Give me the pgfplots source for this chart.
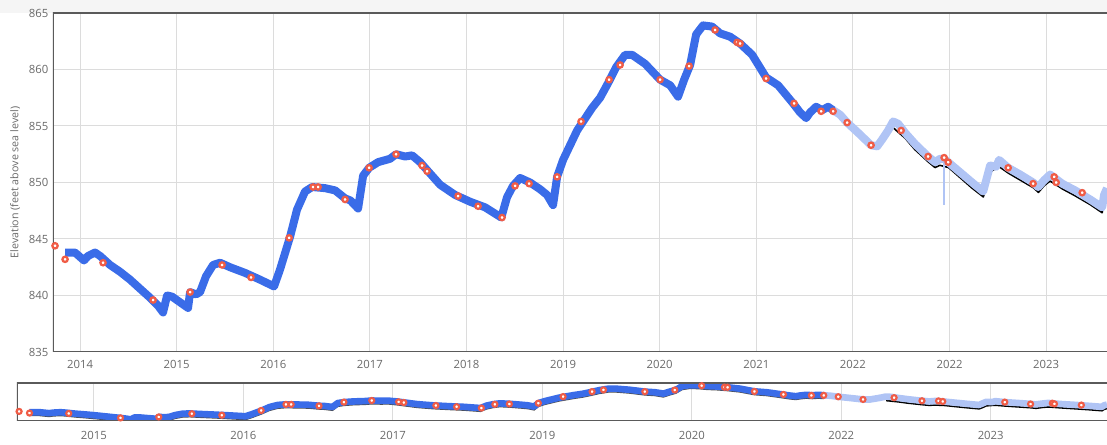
\documentclass[border=0pt]{standalone}
\usepackage{fontspec}
\setmainfont{Open Sans}
\usepackage{pgfplots}
\usepackage{pgfplotstable}
\pgfplotsset{compat=1.18}

\definecolor{lineblue}{RGB}{58,108,232}
\definecolor{paleblue}{RGB}{176,196,245}
\definecolor{ptred}{RGB}{240,92,70}
\definecolor{frame}{RGB}{90,90,90}
\definecolor{gridc}{RGB}{220,220,220}
\definecolor{txt}{RGB}{105,105,105}

% x = position in units of the main axis ticks (0 = first "2014" tick)
\pgfplotstableread{
x y
-0.155 843.8
-0.052 843.8
0.041 843.1
0.083 843.5
0.155 843.8
0.207 843.5
0.311 842.7
0.414 842.1
0.518 841.4
0.621 840.6
0.725 839.8
0.807 839.1
0.859 838.5
0.901 840.0
0.952 839.9
1.035 839.4
1.118 838.9
1.139 840.3
1.201 840.1
1.242 840.3
1.304 841.7
1.377 842.7
1.449 842.9
1.553 842.5
1.708 842.0
1.863 841.4
2.008 840.8
2.070 842.3
2.174 845.2
2.246 847.6
2.329 849.2
2.402 849.6
2.536 849.5
2.640 849.3
2.743 848.6
2.800 848.4
2.878 847.7
2.930 850.6
2.992 851.3
3.085 851.8
3.209 852.1
3.271 852.5
3.364 852.3
3.437 852.4
3.520 851.8
3.602 851.0
3.727 849.8
3.882 848.9
4.037 848.3
4.193 847.8
4.360 846.9
4.420 848.7
4.482 849.7
4.555 850.4
4.658 850.0
4.762 849.4
4.834 848.9
4.896 848.0
4.938 850.5
5.000 852.0
5.145 854.6
5.300 856.6
5.383 857.5
5.466 858.8
5.549 860.2
5.642 861.3
5.714 861.3
5.849 860.5
6.004 859.1
6.108 858.6
6.190 857.6
6.253 859.1
6.315 860.4
6.377 863.1
6.449 863.9
6.542 863.8
6.625 863.2
6.729 862.9
6.832 862.3
6.957 861.3
7.101 859.3
7.226 858.6
7.381 857.0
7.453 856.2
7.516 855.7
7.557 856.2
7.619 856.7
7.681 856.4
7.743 856.7
7.795 856.4
}\bluetab

\pgfplotstableread{
x y
7.795 856.4
7.867 856.0
7.940 855.3
8.054 854.4
8.188 853.3
8.251 853.2
8.302 853.8
8.364 854.6
8.416 855.4
8.468 855.2
8.540 854.4
8.644 853.4
8.778 852.3
8.851 851.8
8.903 852.1
8.944 852.1
8.986 851.8
9.110 850.9
9.234 850.0
9.348 849.2
9.389 850.5
9.420 851.5
9.482 851.4
9.513 852.0
9.607 851.3
9.731 850.7
9.865 850.0
9.917 849.6
9.979 850.2
10.041 850.7
10.104 850.3
10.166 849.9
10.300 849.3
10.455 848.5
10.580 847.8
10.600 848.9
10.630 849.5
}\paletab

\pgfplotstableread{
x y
8.944 852.0
8.944 848.0
}\spiketab

\pgfplotstableread{
x y
8.42 855.0
8.54 854.1
8.64 853.1
8.78 852.0
8.85 851.5
8.90 851.7
8.99 851.5
9.11 850.6
9.23 849.7
9.35 848.9
9.39 850.0
9.42 851.1
9.51 851.6
9.61 851.0
9.73 850.4
9.87 849.7
9.92 849.3
9.98 849.9
10.04 850.3
10.10 850.0
10.17 849.6
10.30 849.0
10.46 848.2
10.58 847.5
10.60 848.5
10.63 849.1
}\blacktab

\pgfplotstableread{
x y
-0.259 844.4
-0.155 843.2
0.238 842.9
0.756 839.6
1.139 840.3
1.470 842.7
1.770 841.6
2.164 845.1
2.412 849.6
2.464 849.6
2.743 848.5
2.992 851.3
3.271 852.5
3.540 851.5
3.592 851.0
3.913 848.8
4.120 847.9
4.368 846.9
4.503 849.7
4.648 849.9
4.938 850.5
5.186 855.4
5.476 859.1
5.590 860.4
6.004 859.1
6.304 860.3
6.573 863.5
6.801 862.4
6.832 862.3
7.101 859.2
7.391 857.0
7.671 856.3
7.795 856.3
7.940 855.3
8.188 853.3
8.499 854.6
8.778 852.3
8.944 852.2
8.986 851.8
9.607 851.3
9.865 849.9
10.083 850.5
10.104 850.0
10.373 849.1
}\pointtab

\begin{document}
\begin{tikzpicture}
\useasboundingbox (0,0) rectangle (830.25pt,333.75pt);
\fill[black!4] (0,324pt) rectangle (830.25pt,333.75pt);

\pgfplotsset{
  chartbase/.style={
    scale only axis,
    axis line style={draw=none},
    tick style={draw=none},
    major tick length=0pt,
    grid=major,
    grid style={gridc, line width=0.75pt},
    ticklabel style={font=\fontsize{8.5}{10}\selectfont, text=txt},
    /pgf/number format/assume math mode=true,
    xmin=-0.28, xmax=10.63,
  },
}

% main chart
\begin{axis}[
  chartbase,
  at={(39.75pt,69.75pt)}, anchor=south west,
  width=790.5pt, height=254.25pt,
  ymin=835, ymax=865,
  ytick={835,840,845,850,855,860,865},
  yticklabel style={/pgf/number format/.cd, fixed, set thousands separator={}},
  xtick={0,1,2,3,4,5,6,7,8,9,10},
  xticklabels={2014,2015,2016,2017,2018,2019,2020,2021,2022,2022,2023},
  xticklabel style={yshift=-3pt},
  ylabel={Elevation (feet above sea level)},
  ylabel style={font=\fontsize{8}{10}\selectfont, text=txt,
    at={(axis description cs:-0.036,0.5)}, anchor=center},
]
\addplot[black, line width=1.2pt, line join=round, yshift=-1.5pt] table {\blacktab};
\addplot[paleblue, line width=2pt] table {\spiketab};
\addplot[paleblue, line width=6pt, line join=round] table {\paletab};
\addplot[lineblue, line width=6pt, line join=round] table {\bluetab};
\addplot[only marks, mark=*, mark size=2pt,
  mark options={fill=white, draw=ptred, line width=1.7pt}] table {\pointtab};
\draw[frame, line width=1.6pt] (rel axis cs:1,1) -- (rel axis cs:0,1)
  -- (rel axis cs:0,0) -- (rel axis cs:1,0);
\end{axis}

% navigator
\begin{axis}[
  chartbase,
  at={(12.75pt,18pt)}, anchor=south west,
  width=817.5pt, height=28.5pt,
  ymin=837.3, ymax=865.5,
  ytick=\empty,
  ymajorgrids=false,
  xtick={0.49,1.986,3.482,4.978,6.474,7.97,9.466},
  xticklabels={2015,2016,2017,2019,2020,2022,2023},
  xticklabel style={yshift=-4pt},
]
\addplot[black!70, line width=1.2pt, yshift=-2.4pt] table {\bluetab};
\addplot[black, line width=1.2pt, yshift=-2.6pt] table {\blacktab};
\addplot[paleblue, line width=5pt, line join=round] table {\paletab};
\addplot[lineblue, line width=5pt, line join=round] table {\bluetab};
\addplot[only marks, mark=*, mark size=1.9pt,
  mark options={fill=white, draw=ptred, line width=1.6pt}] table {\pointtab};
\draw[frame, line width=1.6pt] (rel axis cs:1,1) -- (rel axis cs:0,1)
  -- (rel axis cs:0,0) -- (rel axis cs:1,0);
\end{axis}
\end{tikzpicture}
\end{document}
